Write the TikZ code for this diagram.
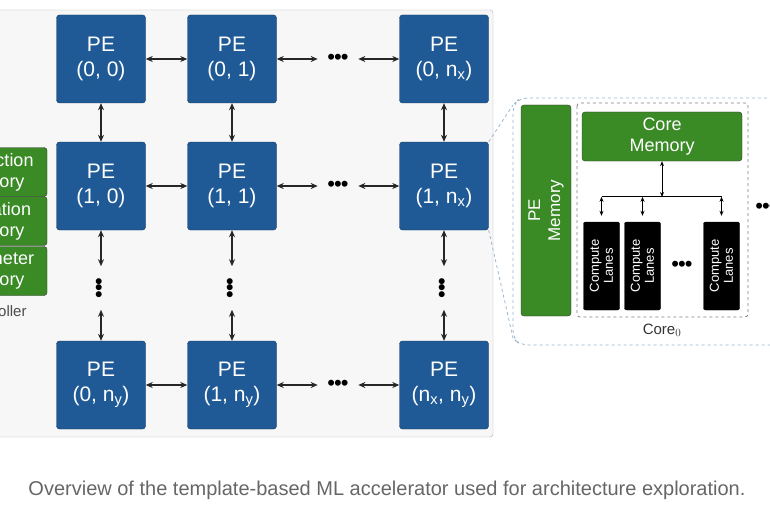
\documentclass[tikz,border=0pt]{standalone}
\usepackage{fontspec}
\setmainfont{Liberation Sans}
\definecolor{peblue}{HTML}{1F5A96}
\definecolor{memgreen}{HTML}{3A8A26}
\usetikzlibrary{arrows.meta, positioning, calc}

\begin{document}
\begin{tikzpicture}[x=1pt, y=-1pt,
      pe/.style={draw=peblue!60!black, fill=peblue, rounded corners=3pt,
                 minimum width=89pt, minimum height=88pt, text=white,
                 font=\fontsize{21}{25}\selectfont, align=center, inner sep=0pt},
      mem/.style={draw=black!80, fill=memgreen, rounded corners=3pt,
                  text=white, font=\fontsize{18}{21}\selectfont, align=center, inner sep=0pt},
      lane/.style={draw=black, fill=black, rounded corners=2pt,
                   minimum width=36pt, minimum height=88pt, inner sep=0pt},
      arr/.style={{Stealth[length=7pt,width=6pt]}-{Stealth[length=7pt,width=6pt]}, line width=1.2pt, black!85},
      sarr/.style={{Stealth[length=5pt,width=4pt]}-{Stealth[length=5pt,width=4pt]}, line width=0.9pt},
      dots/.style={font=\fontsize{22}{22}\selectfont, inner sep=0pt}
    ]
      \useasboundingbox (0,0) rectangle (770,508);
      \clip (0,0) rectangle (770,508);

      % main panel
      \draw[black!30, fill=black!3, rounded corners=3pt] (-20,10) rectangle (493,437);

      % PE grid
      \node[pe] (p00) at (101,59)  {PE\\(0, 0)};
      \node[pe] (p01) at (232,59)  {PE\\(0, 1)};
      \node[pe] (p0n) at (444,59)  {PE\\(0, n$_\mathrm{x}$)};
      \node[pe] (p10) at (101,186) {PE\\(1, 0)};
      \node[pe] (p11) at (232,186) {PE\\(1, 1)};
      \node[pe] (p1n) at (444,186) {PE\\(1, n$_\mathrm{x}$)};
      \node[pe] (pn0) at (101,385) {PE\\(0, n$_\mathrm{y}$)};
      \node[pe] (pn1) at (232,385) {PE\\(1, n$_\mathrm{y}$)};
      \node[pe] (pnn) at (444,385) {PE\\(n$_\mathrm{x}$, n$_\mathrm{y}$)};

      % horizontal links
      \foreach \a/\b/\c in {p00/p01/p0n, p10/p11/p1n, pn0/pn1/pnn} {
        \draw[arr] (\a) -- (\b);
        \coordinate (h1) at ($(\b.east)+(41,0)$);
        \coordinate (h2) at ($(\c.west)-(41,0)$);
        \draw[arr] (\b.east) -- (h1);
        \draw[arr] (h2) -- (\c.west);
        \node[dots] at ($(h1)!0.5!(h2)$) {\textbullet\kern-1pt\textbullet\kern-1pt\textbullet};
      }

      % vertical links
      \foreach \a/\b/\c in {p00/p10/pn0, p01/p11/pn1, p0n/p1n/pnn} {
        \draw[arr] (\a) -- (\b);
        \coordinate (v1) at ($(\b.south)+(0,36)$);
        \coordinate (v2) at ($(\c.north)-(0,31)$);
        \draw[arr] (\b.south) -- (v1);
        \draw[arr] (v2) -- (\c.north);
        \node[dots, rotate=90] at ($(v1)!0.5!(v2)$) {\textbullet\kern-1pt\textbullet\kern-1pt\textbullet};
      }

      % controller memories (cut by the frame)
      \node[mem, minimum width=110pt, minimum height=49pt] (instmem) at (-8,172) {Instruction\\Memory};
      \node[mem, minimum width=110pt, minimum height=49pt] (actmem) at (-8,221) {Activation\\Memory};
      \node[mem, minimum width=110pt, minimum height=49pt] (parmem) at (-8,271) {Parameter\\Memory};
      \node[black!70, font=\fontsize{15}{17}\selectfont] (ctrl) at (-6,311) {Controller};

      % zoom into PE
      \draw[peblue!45, dashed, thick, rounded corners=8pt] (785,98) -- (520,98) -- (513,105) -- (513,338) -- (520,345) -- (785,345);
      \draw[peblue!45, dashed, thick] (p1n.north east) -- (513,105);
      \draw[peblue!45, dashed, thick] (p1n.south east) -- (513,338);

      \node[mem, minimum width=50pt, minimum height=211pt] (pemem) at (546,210.5) {};
      \node[rotate=90, text=white, font=\fontsize{17}{20}\selectfont, align=center] at (pemem) {PE\\Memory};

      \draw[black!50, dashed, thick, rounded corners=3pt] (577,103) rectangle (748,317);
      \node[black!80, font=\fontsize{15}{17}\selectfont] (core) at (662,330) {Core$_0$};
      \node[mem, minimum width=160pt, minimum height=49pt] (coremem) at (662,136.5) {Core\\Memory};

      \node[lane] (cl1) at (601.5,266) {};
      \node[lane] (cl2) at (642.5,266) {};
      \node[lane] (cl3) at (721.5,266) {};
      \foreach \n in {cl1, cl2, cl3}
        \node[rotate=90, text=white, font=\fontsize{13}{14}\selectfont, align=center] at (\n) {Compute\\Lanes};
      \node[dots] at (682,266) {\textbullet\kern-1pt\textbullet\kern-1pt\textbullet};
      \node[dots] at (766,208) {\textbullet\kern-1pt\textbullet\kern-1pt\textbullet};

      \coordinate (bus) at (coremem.south |- 0,197);
      \draw[sarr] (coremem.south) -- (bus);
      \draw[thick] ($(cl1.north)+(0,-25)$) -- ($(cl3.north)+(0,-25)$);
      \foreach \n in {cl1, cl2, cl3}
        \draw[sarr] ($(\n.north)+(0,-25)$) -- ($(\n.north)+(0,-6)$);

      % caption
      \node[black!60, font=\fontsize{20}{23}\selectfont] (caption) at (387,490)
        {Overview of the template-based ML accelerator used for architecture exploration.};
\end{tikzpicture}
\end{document}
